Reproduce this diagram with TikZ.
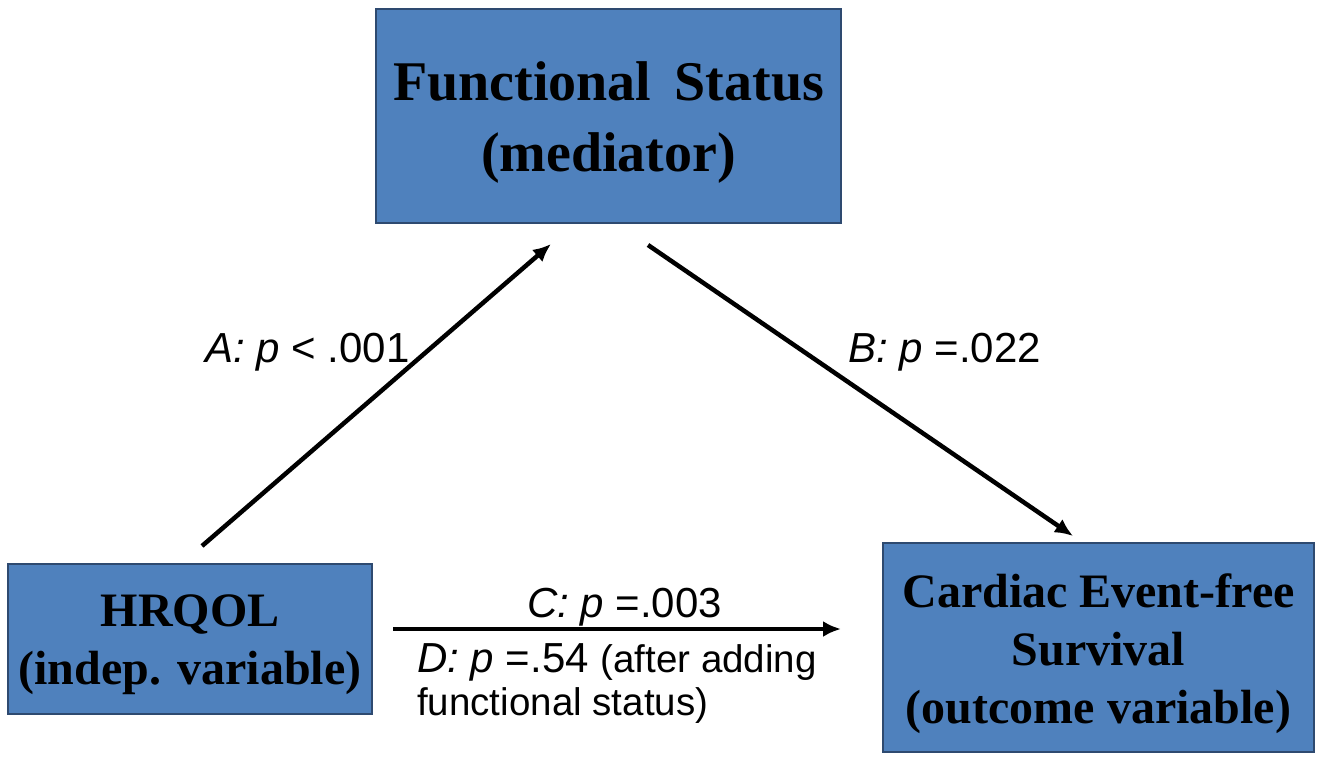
\documentclass[tikz,border=0pt]{standalone}
\usepackage{fontspec}
\setmainfont{Liberation Serif}
\newfontfamily\arialfont{Liberation Sans}
\usetikzlibrary{arrows.meta}
\usetikzlibrary{positioning}

\definecolor{boxfill}{HTML}{4F81BD}
\definecolor{boxline}{HTML}{2E4A70}

\begin{document}
\begin{tikzpicture}[x=1pt,y=-1pt,
	box/.style={draw=boxline,fill=boxfill,line width=1.5pt,inner sep=0pt},
	boxtext/.style={inner sep=0pt,align=center},
	effect/.style={line width=4.5pt,-{Latex[length=18pt,width=16pt]}},
	plabel/.style={font=\arialfont\fontsize{42}{50}\selectfont,inner sep=0pt}]
	\fill[white] (0,0) rectangle (1321,756);
	\useasboundingbox (0,0) rectangle (1321,756);

	% Place nodes
	\node [box,minimum width=465pt,minimum height=214pt] (status) at (608.5,116) {};
	\node [box,minimum width=364pt,minimum height=150pt] (hrqol) at (190,639) {};
	\node [box,minimum width=431pt,minimum height=209pt] (survival) at (1098.5,647.5) {};

	% Box texts
	\node [boxtext,font=\bfseries\fontsize{56}{71}\selectfont] (statustext) at ([yshift=-7pt]status.center) {Functional\,\ Status\\(mediator)};
	\node [boxtext,font=\bfseries\fontsize{48}{58}\selectfont] (hrqoltext) at ([yshift=-6pt]hrqol.center) {HRQOL\\(indep. variable)};
	\node [boxtext,font=\bfseries\fontsize{48}{58}\selectfont] (survivaltext) at ([yshift=-6pt]survival.center) {Cardiac Event-free\\Survival\\(outcome variable)};

	% Arrow ends
	\coordinate (a0) at (202,546);
	\coordinate (a1) at (551,244);
	\coordinate (b0) at (648,245);
	\coordinate (b1) at (1073,536);
	\coordinate (c0) at (393,629);
	\coordinate (c1) at (841,629);

	\draw [effect] (a0) -- (a1);
	\draw [effect] (b0) -- (b1);
	\draw [effect] (c0) -- (c1);

	% Path labels
	\node [plabel,anchor=base west] (pa) at (205,362) {\textit{A:} \textit{p} < .001};
	\node [plabel,anchor=base west] (pb) at (848,362) {\textit{B:} \textit{p} =.022};
	\node [plabel,anchor=base] (pc) at (624.5,617) {\textit{C:} \textit{p} =.003};
	\node [plabel,anchor=base west] (pd) at (417,672) {\textit{D:} \textit{p} =.54 {\fontsize{38.5}{46}\selectfont(after adding}};
	\node [plabel,anchor=base west,font=\arialfont\fontsize{38.5}{46}\selectfont] (pe) at (417,715) {functional status)};
\end{tikzpicture}
\end{document}
